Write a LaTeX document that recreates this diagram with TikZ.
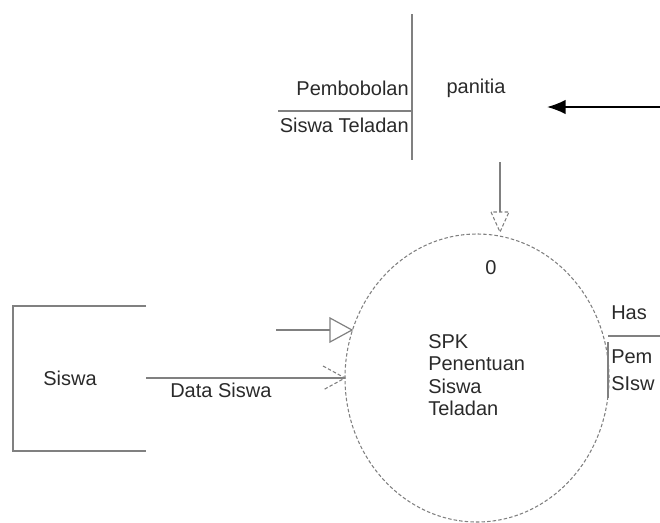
\documentclass[tikz,border=0pt]{standalone}
\usepackage{fontspec}
\setmainfont{Liberation Sans}
\usetikzlibrary{arrows.meta,shapes.geometric}
\definecolor{ln}{HTML}{808080}
\definecolor{tx}{HTML}{2A2A2A}
\tikzset{
  lbl/.style={text=tx, font=\fontsize{15pt}{17pt}\selectfont, inner sep=0pt},
  gline/.style={draw=ln, line width=0.9pt},
  dline/.style={draw=ln, line width=0.8pt, dash pattern=on 2.6pt off 1.6pt},
}
\begin{document}
\begin{tikzpicture}[x=0.75pt, y=-0.75pt]
\useasboundingbox (0,0) rectangle (660,522);
\clip (0,0) rectangle (660,522);
% process
\node[dline, ellipse, inner sep=0pt, minimum width=198pt, minimum height=216pt] (proc) at (477,378) {};
\node[lbl] (num) at (491,268) {0};
\node[lbl, anchor=west, align=left, font=\fontsize{15pt}{16.9pt}\selectfont] (ptext) at (428,375) {SPK\\Penentuan\\Siswa\\Teladan};
% Siswa entity
\coordinate (s1) at (146,306);
\coordinate (s2) at (13,306);
\coordinate (s3) at (13,451);
\coordinate (s4) at (146,451);
\draw[gline] (s1) -- (s2) -- (s3) -- (s4);
\node[lbl] (siswa) at (70,378) {Siswa};
% Data Siswa flow
\coordinate (ds0) at (146,378);
\coordinate (ds1) at (345,378);
\draw[gline] (ds0) -- (ds1);
\draw[dline] (323,366) -- (ds1) -- (323,390);
\node[lbl, anchor=west] (dslbl) at (170,390) {Data Siswa};
% second input flow
\coordinate (f0) at (276,330);
\coordinate (f1) at (330,330);
\draw[gline] (f0) -- (f1);
\draw[draw=ln, line width=0.9pt] (330,318) -- (352,330) -- (330,342) -- cycle;
% panitia store
\coordinate (p1) at (412,14);
\coordinate (p2) at (412,160);
\coordinate (p3) at (278,111);
\coordinate (p4) at (412,111);
\draw[gline] (p1) -- (p2);
\draw[gline] (p3) -- (p4);
\node[lbl, anchor=east] (pemb) at (409,88) {Pembobolan};
\node[lbl, anchor=east] (stel) at (409,125) {Siswa Teladan};
\node[lbl] (panitia) at (476,88) {panitia};
% flow into panitia
\coordinate (a0) at (660,107);
\coordinate (a1) at (547,107);
\draw[black, line width=1.4pt, -{Latex[length=14pt,width=11pt]}] (a0) -- (a1);
% flow panitia -> process
\coordinate (t0) at (500,162);
\coordinate (t1) at (500,212);
\draw[gline] (t0) -- (t1);
\draw[dline] (491,212) -- (500,232) -- (509,212) -- cycle;
% right store (cut off)
\coordinate (r1) at (608,336);
\coordinate (r2) at (660,336);
\coordinate (r3) at (608,342);
\coordinate (r4) at (608,398);
\draw[gline] (r1) -- (r2);
\draw[gline] (r3) -- (r4);
\node[lbl, anchor=west] (has) at (611,313) {Has};
\node[lbl, anchor=west] (pem) at (611,357) {Pem};
\node[lbl, anchor=west] (sisw) at (611,384) {SIsw};
\end{tikzpicture}
\end{document}
